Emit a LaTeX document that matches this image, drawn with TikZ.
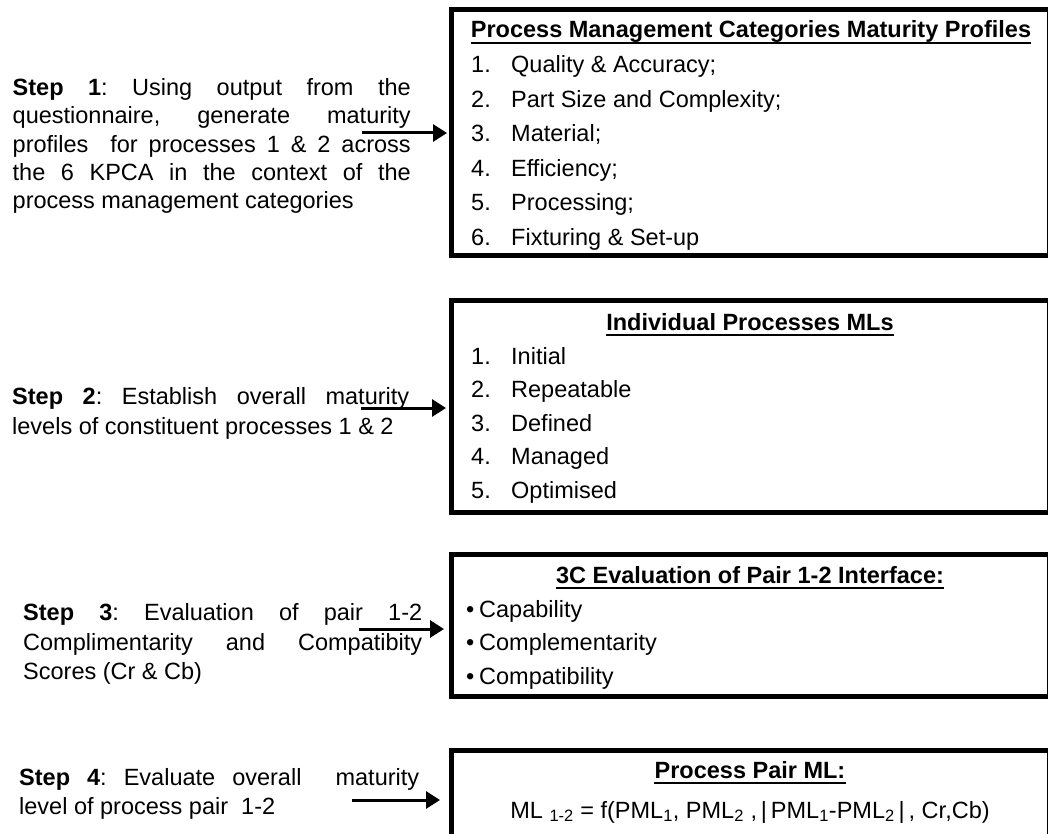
\documentclass[tikz,border=0pt]{standalone}
\usepackage{fontspec}
\setmainfont{Liberation Sans}
\usetikzlibrary{arrows.meta}
\frenchspacing
\begin{document}
\begin{tikzpicture}[x=1pt,y=-1pt,
  txt/.style={inner sep=0pt, anchor=base west, font=\fontsize{23.5}{28}\selectfont},
  ttl/.style={inner sep=0pt, anchor=base, font=\fontsize{23.5}{28}\selectfont\bfseries},
  panel/.style={draw, line width=5pt, inner sep=0pt, minimum width=598pt},
  uline/.style={line width=2pt},
  flow/.style={line width=3pt, -{Triangle[length=14pt,width=17pt]}},
]
\useasboundingbox (0,0) rectangle (1048,834);
\clip (0,0) rectangle (1048,834);

% panels (right and lower edges run off the page)
\node[panel, minimum height=245.5pt] (box1) at (750,132.25) {};
\node[panel, minimum height=212pt]   (box2) at (750,406) {};
\node[panel, minimum height=142pt]   (box3) at (750,625) {};
\node[panel, minimum height=120pt]   (box4) at (750,810) {};

% step 1
\node[txt] (s1a) at (12.5,95.7) {\makebox[398pt][s]{\textbf{Step 1}: Using output from the}};
\node[txt] (s1b) at (12.5,124)  {\makebox[398pt][s]{questionnaire, generate maturity}};
\node[txt] (s1c) at (12.5,152.3){\makebox[398pt][s]{profiles\ \ for processes 1 \& 2 across}};
\node[txt] (s1d) at (12.5,180.7){\makebox[398pt][s]{the 6 KPCA in the context of the}};
\node[txt] (s1e) at (12.5,209)  {process management categories};

\node[ttl] (t1) at (751,38) {Process Management Categories Maturity Profiles};
\draw[uline] ([yshift=-5pt]t1.base west) -- ([yshift=-5pt]t1.base east);
\foreach \n/\y/\label in {1/73/{Quality \& Accuracy;},2/107.5/{Part Size and Complexity;},
  3/142/{Material;},4/176.5/{Efficiency;},5/211/{Processing;},6/245/{Fixturing \& Set-up}}{
  \node[txt] (p1n\n) at (471,\y) {\n.};
  \node[txt] (p1i\n) at (511,\y) {\label};
}
\coordinate (a1) at (362,133);
\draw[flow] (a1) -- ([xshift=-1.5pt]a1 -| box1.west);

% step 2
\node[txt] (s2a) at (12,404) {\makebox[397pt][s]{\textbf{Step 2}: Establish overall maturity}};
\node[txt] (s2b) at (12,434) {levels of constituent processes 1 \& 2};

\node[ttl] (t2) at (750,330) {Individual Processes MLs};
\draw[uline] ([yshift=-5pt]t2.base west) -- ([yshift=-5pt]t2.base east);
\foreach \n/\y/\label in {1/364/Initial,2/397.5/Repeatable,3/431/Defined,4/464.5/Managed,5/498/Optimised}{
  \node[txt] (p2n\n) at (471,\y) {\n.};
  \node[txt] (p2i\n) at (511,\y) {\label};
}
\coordinate (a2) at (361,408);
\draw[flow] (a2) -- ([xshift=-2.5pt]a2 -| box2.west);

% step 3
\node[txt] (s3a) at (23,620) {\makebox[399pt][s]{\textbf{Step 3}: Evaluation of pair 1-2}};
\node[txt] (s3b) at (23,650) {\makebox[399pt][s]{Complimentarity and Compatibity}};
\node[txt] (s3c) at (23,679) {Scores (Cr \& Cb)};

\node[ttl] (t3) at (750,583) {3C Evaluation of Pair 1-2 Interface:};
\draw[uline] ([yshift=-5pt]t3.base west) -- ([yshift=-5pt]t3.base east);
\foreach \n/\y/\label in {1/617/Capability,2/650.5/Complementarity,3/684/Compatibility}{
  \node[txt] (p3i\n) at (466,\y) {\makebox[13pt][l]{•}\label};
}
\coordinate (a3) at (359,629);
\draw[flow] (a3) -- ([xshift=-4.5pt]a3 -| box3.west);

% step 4
\node[txt] (s4a) at (19,785) {\makebox[400pt][s]{\textbf{Step 4}: Evaluate overall\ \ maturity}};
\node[txt] (s4b) at (19,814) {level of process pair\ \ 1-2};

\node[ttl] (t4) at (750,778) {Process Pair ML:};
\draw[uline] ([yshift=-5pt]t4.base west) -- ([yshift=-5pt]t4.base east);
\node[txt, anchor=base] (f4) at (750,818)
  {ML \textsubscript{1-2} = f(PML\textsubscript{1}, PML\textsubscript{2} ,\,|\,PML\textsubscript{1}-PML\textsubscript{2}\,|\,, Cr,Cb)};
\coordinate (a4) at (352,800);
\draw[flow] (a4) -- ([xshift=-8.5pt]a4 -| box4.west);
\end{tikzpicture}
\end{document}
